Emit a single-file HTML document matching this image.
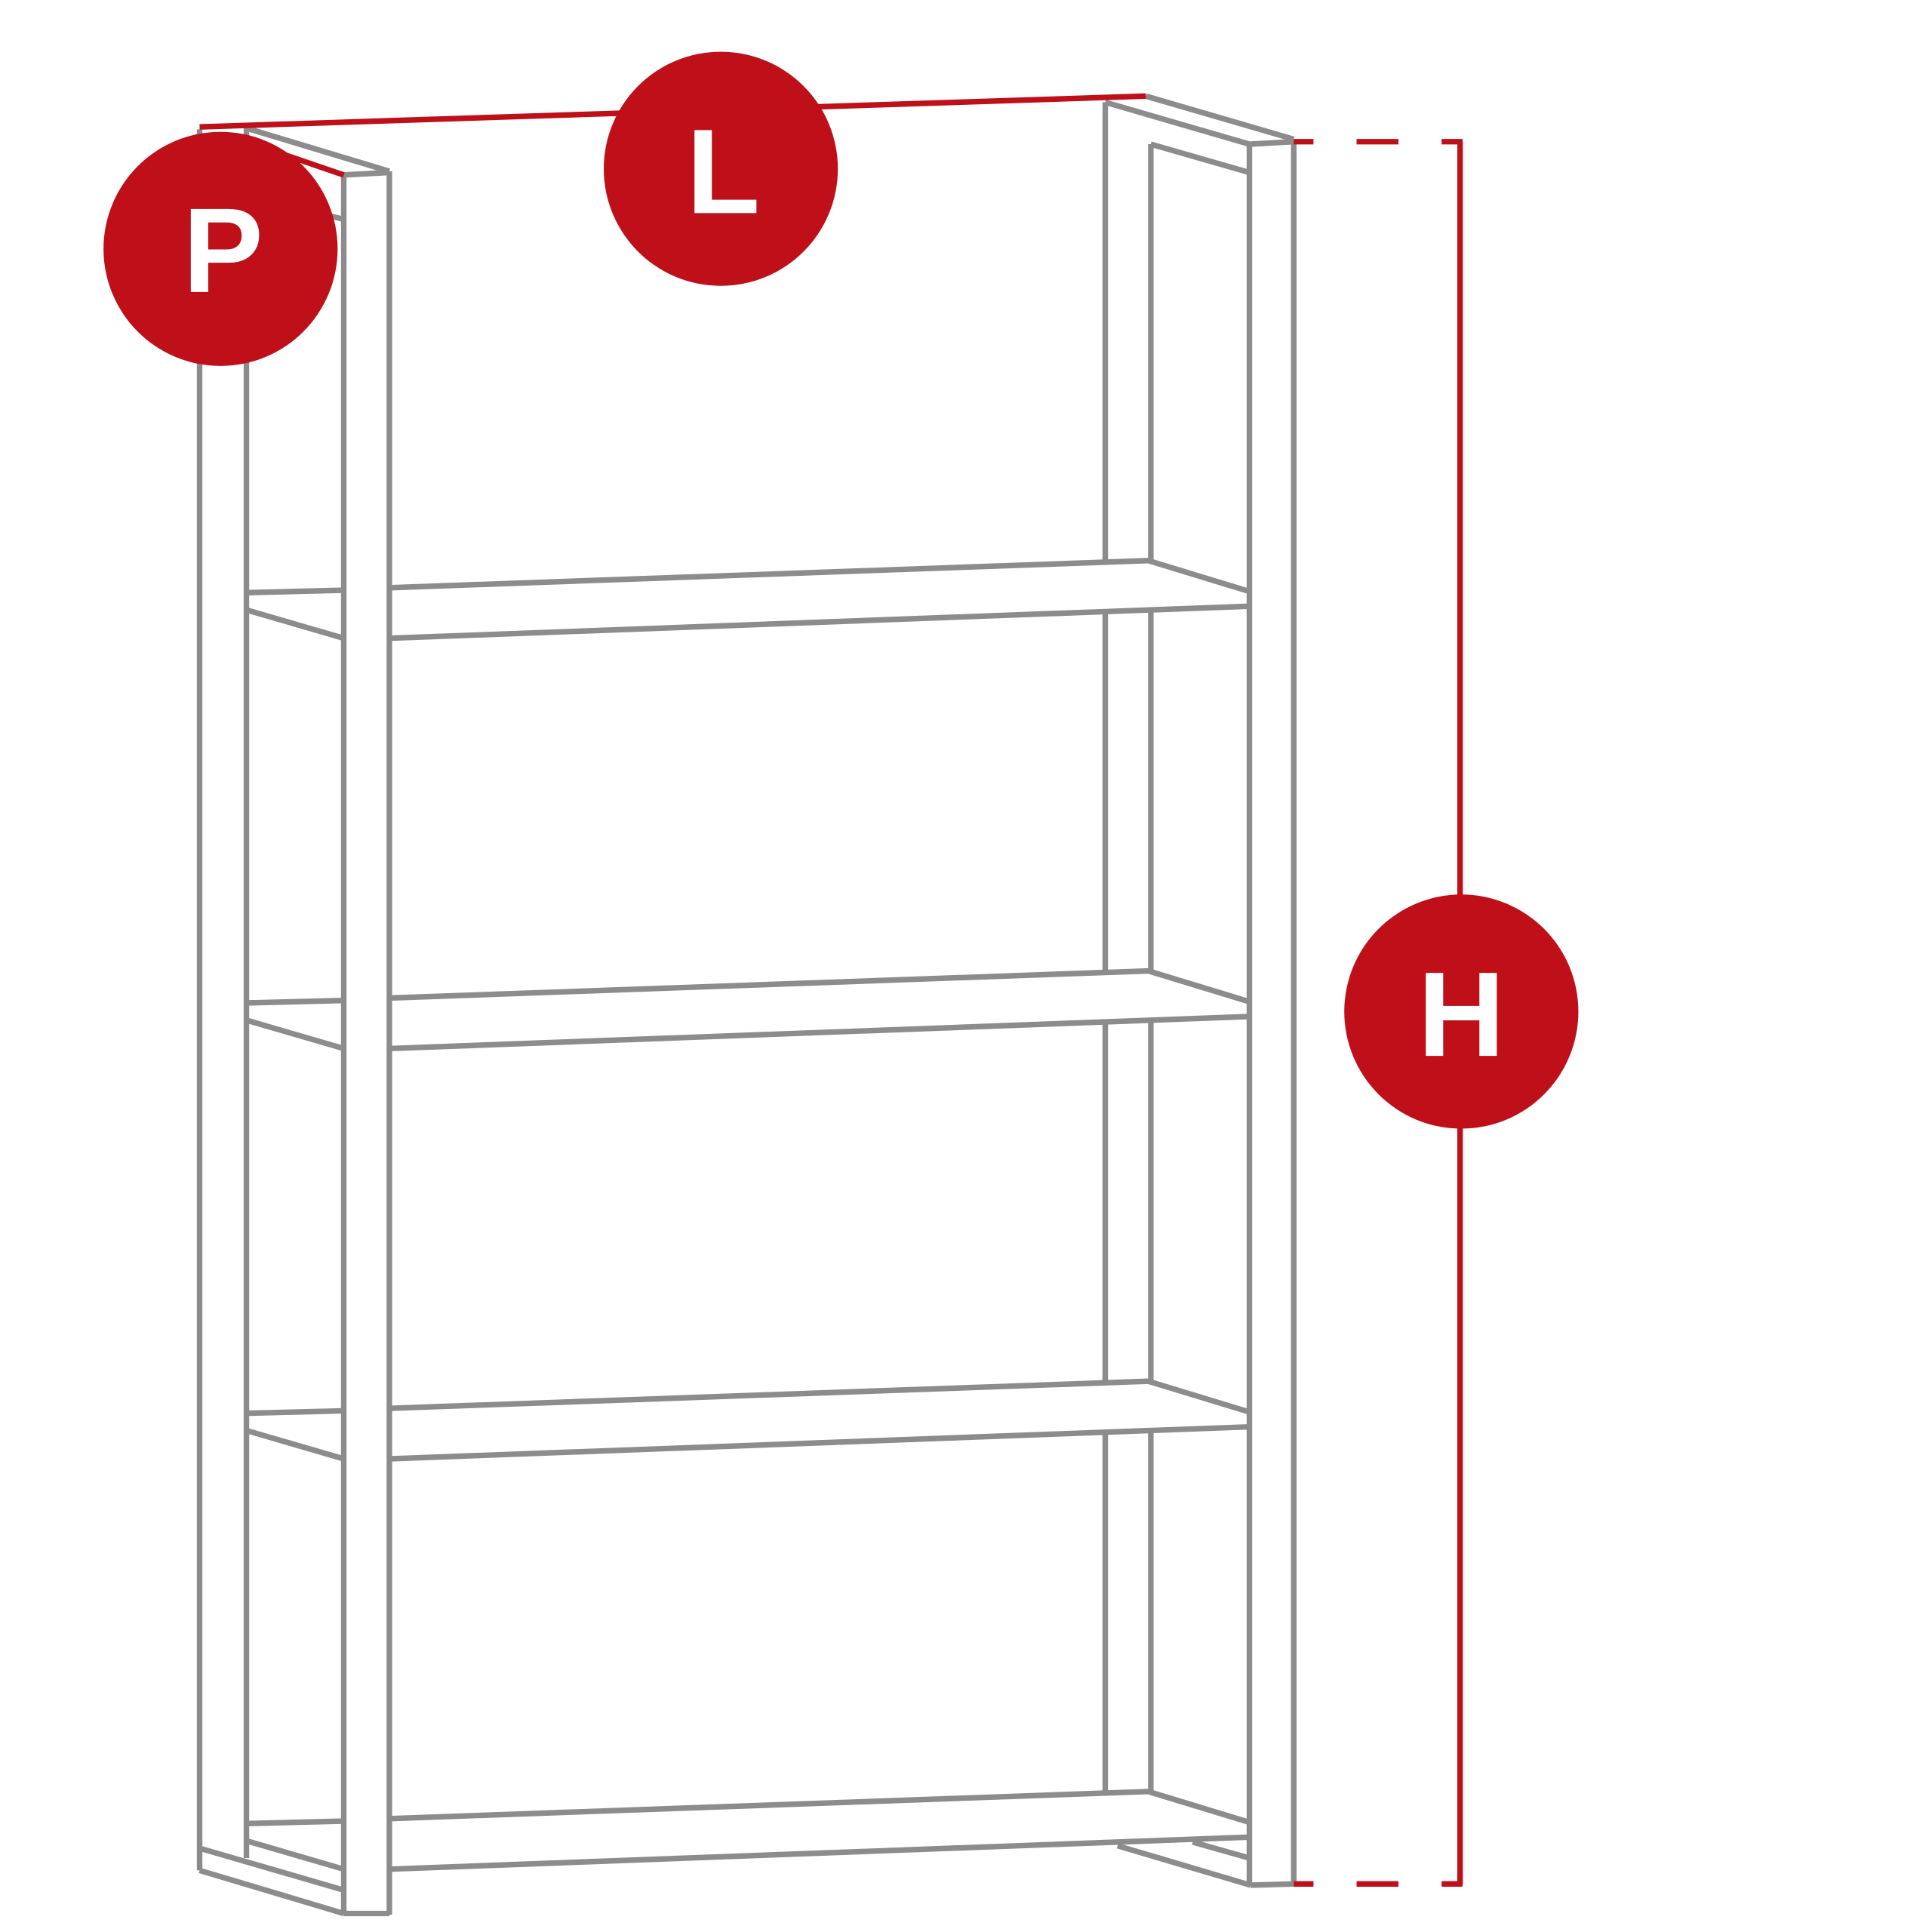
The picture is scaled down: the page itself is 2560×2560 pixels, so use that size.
<!DOCTYPE html>
<html><head><style>html,body{margin:0;padding:0;background:#fff}svg{display:block}</style></head>
<body>
<svg width="2560" height="2560" viewBox="0 0 1568 1568" xmlns="http://www.w3.org/2000/svg">
<g stroke="#8c8c8c" stroke-width="4.5" fill="none" stroke-linecap="butt">
<!-- left posts -->
<line x1="162" y1="105" x2="162" y2="1518"/>
<line x1="200" y1="104" x2="200" y2="1508"/>
<line x1="279" y1="142" x2="279" y2="1554"/>
<line x1="316" y1="139" x2="316" y2="1554"/>
<line x1="200" y1="104" x2="316" y2="139"/>
<line x1="279" y1="142" x2="316" y2="140"/>
<line x1="258" y1="173" x2="279" y2="178"/>
<!-- right posts (interrupted by shelves) -->
<path d="M897 83V455M897 497V788M897 830V1121M897 1163V1455"/>
<path d="M934 117V455M934 495V788M934 828V1121M934 1161V1455"/>
<line x1="1014" y1="117" x2="1014" y2="1530"/>
<line x1="1050" y1="114" x2="1050" y2="1530"/>
<line x1="930" y1="78" x2="1050" y2="113"/>
<line x1="897" y1="83" x2="1014" y2="117"/>
<line x1="934" y1="117" x2="1014" y2="140"/>
<line x1="1014" y1="117" x2="1050" y2="115"/>
<!-- shelves -->
<g id="s">
<line x1="200" y1="481" x2="279" y2="479"/>
<line x1="316" y1="477" x2="932" y2="455"/>
<line x1="932" y1="455" x2="1014" y2="480"/>
<line x1="200" y1="495" x2="279" y2="518"/>
<line x1="316" y1="518" x2="1014" y2="492"/>
</g>
<use href="#s" y="333"/>
<use href="#s" y="666"/>
<use href="#s" y="999"/>
<!-- bottom -->
<line x1="162" y1="1500" x2="279" y2="1534"/>
<line x1="162" y1="1518" x2="279" y2="1553"/>
<line x1="279" y1="1553" x2="316" y2="1553"/>
<line x1="907" y1="1498" x2="1015" y2="1530"/>
<line x1="1015" y1="1530" x2="1050" y2="1529"/>
<line x1="968" y1="1495" x2="1014" y2="1508"/>
</g>
<g stroke="#bf0f19" stroke-width="4.5" fill="none">
<line x1="162" y1="103" x2="930" y2="78"/>
<line x1="200" y1="115" x2="279" y2="142"/>
<line x1="1185" y1="115" x2="1185" y2="1529"/>
<path d="M1050 115H1066M1101 115H1135M1170 115H1187M1050 1529H1066M1101 1529H1135M1170 1529H1187"/>
</g>
<g fill="#bf0f19">
<circle cx="179" cy="202" r="95"/>
<circle cx="585" cy="137" r="95"/>
<circle cx="1186" cy="821" r="95"/>
</g>
<g fill="#fff" font-family="Liberation Sans, sans-serif" font-weight="bold" font-size="98" text-anchor="middle">
<text x="181" y="237">P</text>
<text x="587" y="173">L</text>
<text x="1186" y="857">H</text>
</g>
</svg>
</body></html>
